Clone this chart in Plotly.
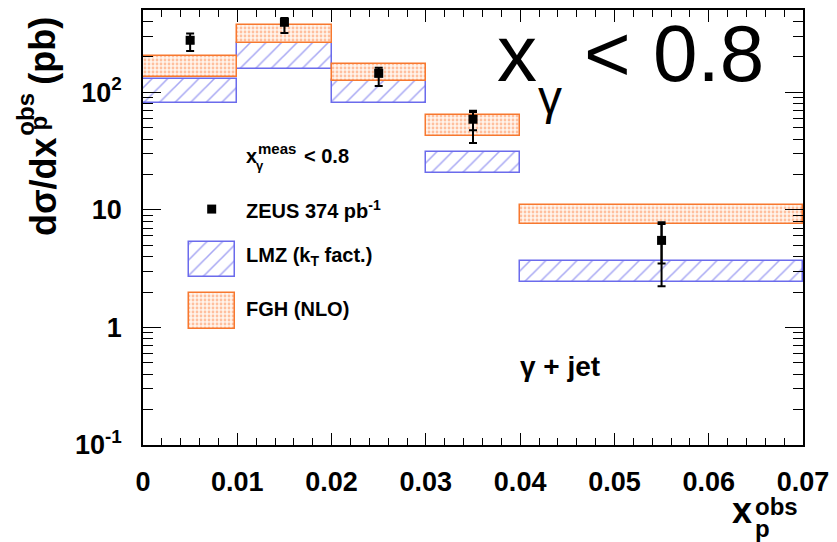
import plotly.graph_objects as go

# ---- data -------------------------------------------------------------
bin_lo = [0.00, 0.01, 0.02, 0.03, 0.04]
bin_hi = [0.01, 0.02, 0.03, 0.04, 0.07]

# ZEUS measurement (pb)
zeus_x = [0.005, 0.015, 0.025, 0.035, 0.055]
zeus_y = [277, 394, 145, 59, 5.5]
zeus_tot_up = [39, 34, 17, 10.5, 2.35]
zeus_tot_dn = [53, 74, 32, 22, 3.26]
zeus_stat_up = [15, 20, 8, 9, 2.1]
zeus_stat_dn = [15, 20, 8, 11.4, 2.0]

# theory bands (low / high edge, pb)
lmz_lo = [80.7, 158.5, 80.7, 20.6, 2.43]
lmz_hi = [131, 263, 127, 30.8, 3.65]
fgh_lo = [135, 263, 125, 42.7, 7.6]
fgh_hi = [203, 377, 175, 63.8, 10.9]

y_tickvals = [0.1, 1, 10, 100]
y_ticktext = ["10<sup>-1</sup>", "1", "10", "10<sup>2</sup>"]
x_tickvals = [0, 0.01, 0.02, 0.03, 0.04, 0.05, 0.06, 0.07]
x_ticktext = ["0", "0.01", "0.02", "0.03", "0.04", "0.05", "0.06", "0.07"]

# ---- styling ----------------------------------------------------------
W, H = 837, 542
PL, PR, PT, PB = 143, 806, 8, 445          # plot-area frame in pixels
FONT = "Liberation Sans, Arial, Helvetica, sans-serif"
BLUE_LINE = "#6b6bec"
BLUE_HATCH = "#4f4fe8"
ORANGE_LINE = "#f7782f"
ORANGE_DOT = "#ff8a50"


def px(xp):
    return (xp - PL) / (PR - PL)


def py(yp):
    return (PB - yp) / (PB - PT)


centers = [(a + b) / 2 for a, b in zip(bin_lo, bin_hi)]
widths = [b - a for a, b in zip(bin_lo, bin_hi)]

LMZ_MARKER = dict(color="white", line=dict(color=BLUE_LINE, width=1.5),
                  pattern=dict(shape="/", fgcolor=BLUE_HATCH, bgcolor="white",
                               size=11, solidity=0.14))
FGH_MARKER = dict(color="white", line=dict(color=ORANGE_LINE, width=1.5),
                  pattern=dict(shape=".", fgcolor=ORANGE_DOT, bgcolor="#fff4ec",
                               size=4, solidity=0.38))

fig = go.Figure()

fig.add_trace(go.Bar(
    x=centers, width=widths, base=lmz_lo,
    y=[h - l for h, l in zip(lmz_hi, lmz_lo)],
    marker=LMZ_MARKER, showlegend=False,
))
fig.add_trace(go.Bar(
    x=centers, width=widths, base=fgh_lo,
    y=[h - l for h, l in zip(fgh_hi, fgh_lo)],
    marker=FGH_MARKER, showlegend=False,
))

# statistical error caps
fig.add_trace(go.Scatter(
    x=zeus_x, y=zeus_y, mode="markers",
    marker=dict(size=1, color="rgba(0,0,0,0)"),
    error_y=dict(type="data", array=zeus_stat_up, arrayminus=zeus_stat_dn,
                 color="black", thickness=2, width=4),
    showlegend=False,
))
# data points with total errors
fig.add_trace(go.Scatter(
    x=zeus_x, y=zeus_y, mode="markers",
    marker=dict(symbol="square", size=9, color="black"),
    error_y=dict(type="data", array=zeus_tot_up, arrayminus=zeus_tot_dn,
                 color="black", thickness=2, width=4),
    showlegend=False,
))

# ---- in-plot legend (pixel-aligned overlay axes) -----------------------
legend_box_x = 212.3
legend_box_w = 46.7
lmz_box = (241, 276.7)
fgh_box = (292.7, 328.3)

fig.add_trace(go.Bar(
    x=[legend_box_x], width=[legend_box_w], base=[lmz_box[0]],
    y=[lmz_box[1] - lmz_box[0]], xaxis="x2", yaxis="y2",
    marker=LMZ_MARKER, showlegend=False,
))
fig.add_trace(go.Bar(
    x=[legend_box_x], width=[legend_box_w], base=[fgh_box[0]],
    y=[fgh_box[1] - fgh_box[0]], xaxis="x2", yaxis="y2",
    marker=FGH_MARKER, showlegend=False,
))
fig.add_trace(go.Scatter(
    x=[212], y=[208], mode="markers", xaxis="x2", yaxis="y2",
    marker=dict(symbol="square", size=9, color="black"), showlegend=False,
))

ann = []


def text(xp, yp, s, size, bold=True, xanchor="left", angle=0, yanchor="middle"):
    ann.append(dict(
        x=px(xp), y=py(yp), xref="paper", yref="paper", text=s,
        showarrow=False, xanchor=xanchor, yanchor=yanchor, textangle=angle,
        font=dict(family=FONT, size=size, color="black",
                  weight="bold" if bold else "normal"),
    ))


# large selection label
text(497, 52, "x", 80, bold=False)
text(538, 96, "γ", 48, bold=False)
text(584, 52, "&lt; 0.8", 80, bold=False)

# legend text
text(244, 155, "x", 20)
text(257, 147.5, "meas", 15)
text(255, 164, "γ", 13)
text(303, 155, "&lt; 0.8", 20)
text(244, 208, "ZEUS 374 pb<sup>-1</sup>", 20)
text(244, 255.7, "LMZ (k<sub>T</sub> fact.)", 20)
text(244, 308, "FGH (NLO)", 20)

text(562, 366, "γ + jet", 28, xanchor="center")

# x-axis title
text(733, 510.4, "x", 36)
text(756, 507, "obs", 24)
text(756, 529, "p", 24)

# y-axis title (rotated)
text(42.4, 185, "dσ/dx", 36, xanchor="center", angle=-90)
text(24.6, 113, "obs", 24, xanchor="center", angle=-90)
text(37.6, 122, "p", 24, xanchor="center", angle=-90)
text(42.4, 49, "(pb)", 36, xanchor="center", angle=-90)

fig.update_layout(
    width=W, height=H,
    margin=dict(l=PL, r=W - PR, t=PT, b=H - PB, pad=0),
    paper_bgcolor="white", plot_bgcolor="white",
    barmode="overlay", bargap=0,
    annotations=ann,
    xaxis=dict(
        range=[0, 0.07], tickvals=x_tickvals, ticktext=x_ticktext,
        ticks="inside", ticklen=12, tickwidth=1, tickcolor="black",
        showline=True, linecolor="black", linewidth=1.5, mirror="ticks",
        showgrid=False, zeroline=False, ticklabelstandoff=12,
        tickfont=dict(family=FONT, size=27, color="black", weight="bold"),
        minor=dict(ticks="inside", ticklen=7, dtick=0.002, tickcolor="black",
                   tickwidth=1, showgrid=False),
    ),
    yaxis=dict(
        type="log", range=[-1, 2.7], tickvals=y_tickvals, ticktext=y_ticktext,
        ticks="inside", ticklen=18, tickwidth=1, tickcolor="black",
        showline=True, linecolor="black", linewidth=1.5, mirror="ticks",
        showgrid=False, zeroline=False, ticklabelstandoff=14,
        tickfont=dict(family=FONT, size=27, color="black", weight="bold"),
        minor=dict(ticks="inside", ticklen=10, dtick="D1", tickcolor="black",
                   tickwidth=1, showgrid=False),
    ),
    xaxis2=dict(overlaying="x", range=[PL, PR], visible=False),
    yaxis2=dict(overlaying="y", range=[PB, PT], visible=False),
)

fig.write_html("out.html")
